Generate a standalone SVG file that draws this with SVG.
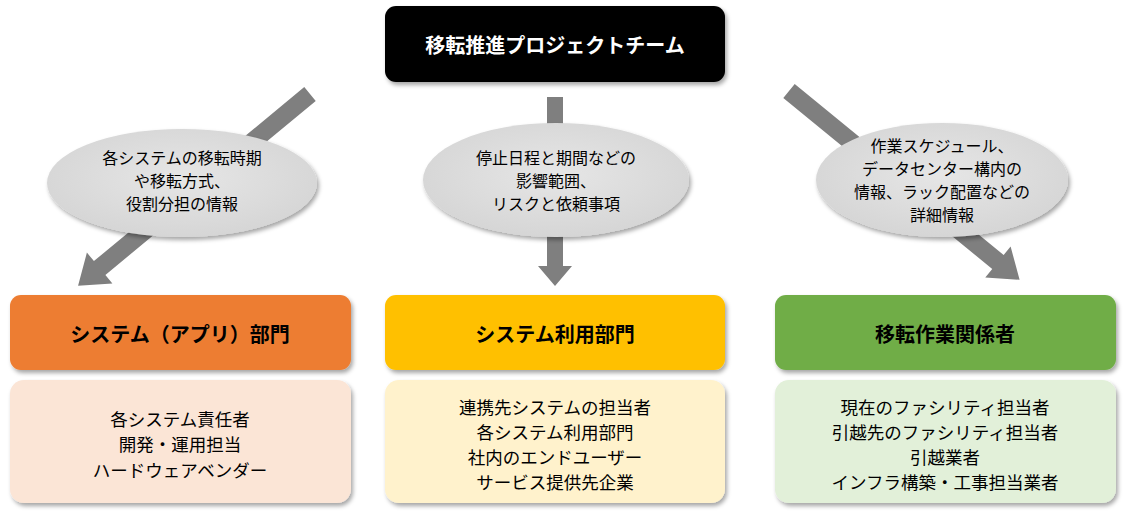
<svg xmlns="http://www.w3.org/2000/svg" width="1125" height="517" viewBox="0 0 1125 517">
<defs>
<filter id="sh" x="-10%" y="-10%" width="125%" height="130%">
<feDropShadow dx="2" dy="3" stdDeviation="2" flood-color="#000" flood-opacity="0.35"/>
</filter>
<radialGradient id="eg" cx="50%" cy="45%" r="60%">
<stop offset="0" stop-color="#e6e6e6"/>
<stop offset="1" stop-color="#d4d4d4"/>
</radialGradient>
</defs>
<style>
.t{font-family:"Meiryo UI","Noto Sans CJK JP",sans-serif;text-anchor:middle;dominant-baseline:central}
.hd{font-size:20px;font-weight:bold;fill:#000}
.tt{font-size:20px;font-weight:bold;fill:#fff}
.el{font-size:16px;fill:#000}
.bx{font-size:17.5px;fill:#000}
.arr{fill:#7f7f7f}
.ell{fill:url(#eg);filter:url(#sh)}
</style>
<g id="connectors">
<polygon class="arr" transform="translate(310,94) rotate(140.4)" points="0,-9 273,-9 273,-20 301,0 273,20 273,9 0,9"/>
<polygon class="arr" transform="translate(555,97) rotate(90)" points="0,-8 169,-8 169,-17 189,0 169,17 169,8 0,8"/>
<polygon class="arr" transform="translate(789,91) rotate(39.3)" points="0,-9 270,-9 270,-20 298,0 270,20 270,9 0,9"/>
</g>
<g id="top">
<rect x="385" y="6" width="340" height="76" rx="11" fill="#000" filter="url(#sh)"/>
<text class="t tt" x="555" y="44">移転推進プロジェクトチーム</text>
</g>
<g id="label-left">
<ellipse class="ell" cx="182" cy="183" rx="135" ry="54"/>
<text class="t el"><tspan x="182" y="157">各システムの移転時期</tspan><tspan x="182" y="180">や移転方式、</tspan><tspan x="182" y="203">役割分担の情報</tspan></text>
</g>
<g id="label-mid">
<ellipse class="ell" cx="556" cy="180" rx="133" ry="57"/>
<text class="t el"><tspan x="556" y="157">停止日程と期間などの</tspan><tspan x="556" y="180">影響範囲、</tspan><tspan x="556" y="203">リスクと依頼事項</tspan></text>
</g>
<g id="label-right">
<ellipse class="ell" cx="942" cy="180" rx="126" ry="57"/>
<text class="t el"><tspan x="942" y="145">作業スケジュール、</tspan><tspan x="942" y="168">データセンター構内の</tspan><tspan x="942" y="191">情報、ラック配置などの</tspan><tspan x="942" y="214">詳細情報</tspan></text>
</g>
<g id="dept-app">
<rect x="10" y="295" width="341" height="75" rx="11" fill="#ed7d31" filter="url(#sh)"/>
<text class="t hd" x="180" y="333">システム（アプリ）部門</text>
</g>
<g id="dept-app-members">
<rect x="10" y="380" width="341" height="123" rx="14" fill="#fbe5d6" filter="url(#sh)"/>
<text class="t bx"><tspan x="180" y="418">各システム責任者</tspan><tspan x="180" y="443">開発・運用担当</tspan><tspan x="180" y="469">ハードウェアベンダー</tspan></text>
</g>
<g id="dept-user">
<rect x="385" y="295" width="340" height="75" rx="11" fill="#ffc000" filter="url(#sh)"/>
<text class="t hd" x="555" y="333">システム利用部門</text>
</g>
<g id="dept-user-members">
<rect x="385" y="380" width="340" height="123" rx="14" fill="#fff2cc" filter="url(#sh)"/>
<text class="t bx"><tspan x="555" y="406">連携先システムの担当者</tspan><tspan x="555" y="431">各システム利用部門</tspan><tspan x="555" y="456">社内のエンドユーザー</tspan><tspan x="555" y="481">サービス提供先企業</tspan></text>
</g>
<g id="dept-move">
<rect x="775" y="295" width="341" height="75" rx="11" fill="#70ad47" filter="url(#sh)"/>
<text class="t hd" x="945" y="333">移転作業関係者</text>
</g>
<g id="dept-move-members">
<rect x="775" y="380" width="341" height="123" rx="14" fill="#e2f0d9" filter="url(#sh)"/>
<text class="t bx"><tspan x="945" y="406">現在のファシリティ担当者</tspan><tspan x="945" y="431">引越先のファシリティ担当者</tspan><tspan x="945" y="456">引越業者</tspan><tspan x="945" y="481">インフラ構築・工事担当業者</tspan></text>
</g>
</svg>
